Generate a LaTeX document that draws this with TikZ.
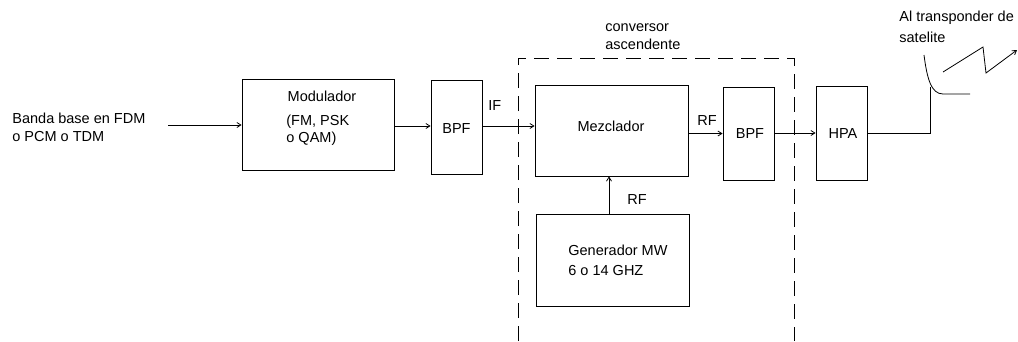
\documentclass[tikz,border=0pt]{standalone}
\usepackage{fontspec}
\setmainfont{Liberation Sans}
\usetikzlibrary{arrows.meta}
\begin{document}
\begin{tikzpicture}[x=1pt,y=-1pt,
  font=\fontsize{14.5}{17}\selectfont,
  line width=0.8pt,
  blk/.style={draw, minimum width=#1, inner sep=0pt},
  arr/.style={-{Straight Barb[length=4pt,width=5pt]}},
  txt/.style={anchor=base west, inner sep=0pt},
  dashbox/.style={dash pattern=on 15pt off 8pt}]
\useasboundingbox (0,0) rectangle (1018,341);
% blocks
\node[blk=152pt, minimum height=91pt] (mod) at (318,124.5) {};
\node[blk=51pt, minimum height=94pt] (bpf1) at (456.5,127) {};
\node[blk=153pt, minimum height=91pt] (mez) at (611.5,130.5) {};
\node[blk=51pt, minimum height=93pt] (bpf2) at (748.5,133.5) {};
\node[blk=51pt, minimum height=94pt] (hpa) at (841.5,133) {};
\node[blk=153pt, minimum height=92pt] (gen) at (612.5,260) {};
% dashed up-converter
\draw[dashbox] (518,341) -- (518,58) -- (794,58) -- (794,341);
% texts
\node[txt] (in1) at (12,123) {Banda base en FDM};
\node[txt] (in2) at (12,141) {o PCM o TDM};
\node[anchor=base, inner sep=0pt] (modt) at (322,101.5) {Modulador};
\node[txt] (mod2) at (286,125) {(FM, PSK};
\node[txt] (mod3) at (286,142.5) {o QAM)};
\node[anchor=base, inner sep=0pt] (bpf1t) at (456.5,133) {BPF};
\node[txt] (if) at (488,110) {IF};
\node[txt] (conv1) at (605,31.5) {conversor};
\node[txt] (conv2) at (605,49.3) {ascendente};
\node[anchor=base, inner sep=0pt] (mezt) at (611,131.7) {Mezclador};
\node[txt] (rf1) at (697,125) {RF};
\node[anchor=base, inner sep=0pt] (bpf2t) at (750,138.3) {BPF};
\node[anchor=base, inner sep=0pt] (hpat) at (843,138.3) {HPA};
\node[txt] (sat1) at (899,21.7) {Al transponder de};
\node[txt] (sat2) at (899,42.3) {satelite};
\node[txt] (rf2) at (627,204) {RF};
\node[txt] (gen1) at (568,255) {Generador MW};
\node[txt] (gen2) at (568,275) {6 o 14 GHZ};
% connectors
\coordinate (src) at (168,125);
\draw[arr] (src) -- (src -| mod.west);
\draw[arr] (mod.east |- 0,126) -- (bpf1.west |- 0,126);
\draw[arr] (bpf1.east |- 0,126) -- (mez.west |- 0,126);
\draw[arr] (mez.east |- bpf2) -- (bpf2.west);
\draw[arr] (bpf2.east |- hpa) -- (hpa.west);
\draw[arr] (gen.north -| 609,0) -- (mez.south -| 609,0);
% antenna
\coordinate (feed) at (930,87);
\coordinate (dishtop) at (924,55);
\coordinate (dishend) at (970,94);
\draw (hpa.east) -- (hpa.east -| feed) -- (feed);
\draw (dishtop) .. controls (927,78) and (931,94) .. (943,94) -- (dishend);
\coordinate (z0) at (943,72);
\coordinate (z1) at (983,47);
\coordinate (z2) at (986,73);
\coordinate (z3) at (1017,50);
\draw[arr] (z0) -- (z1) -- (z2) -- (z3);
\end{tikzpicture}
\end{document}
